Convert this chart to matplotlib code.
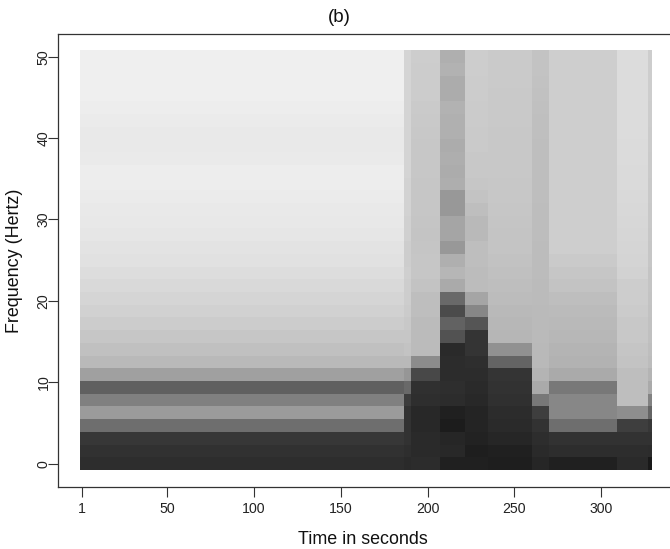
import numpy as np
import matplotlib
matplotlib.use('Agg')
import matplotlib.pyplot as plt

plt.rcParams['font.family'] = ['Liberation Sans', 'DejaVu Sans']

# column edges (seconds) and row centres (Hertz)
time_edges = [-0.33, 186.4, 190.4, 207.1, 221.9, 234.8, 260.2, 270.0, 309.2, 327.1, 329.4]
freq_step = 1.5625
n_rows = 33

# grey level of each row (bottom to top), one list per time segment
seg0 = [45, 49, 55, 110, 155, 128, 96, 160, 185, 192, 198, 204, 209, 213, 217, 221, 225,
        227, 230, 232, 233, 235, 237, 237, 234, 233, 233, 235, 237, 239, 239, 239, 239]
seg1 = [42, 46, 50, 50, 50, 60, 105, 150, 185, 195, 198, 200, 203, 205, 205, 207, 205,
        205, 208, 208, 210, 210, 210, 212, 212, 212, 212, 212, 212, 212, 212, 212, 212]
seg2 = [44, 42, 42, 40, 40, 46, 48, 72, 140, 187, 187, 187, 190, 190, 195, 198, 198,
        197, 196, 197, 198, 198, 198, 199, 199, 199, 200, 201, 202, 204, 204, 204, 205]
seg3 = [32, 40, 38, 28, 32, 44, 46, 44, 44, 42, 82, 98, 75, 105, 170, 182, 175,
        152, 165, 165, 152, 152, 174, 172, 174, 172, 176, 176, 178, 172, 172, 178, 175]
seg4 = [32, 30, 34, 36, 36, 40, 42, 44, 46, 52, 52, 85, 135, 165, 188, 188, 190,
        190, 185, 185, 190, 195, 198, 200, 200, 202, 202, 203, 203, 204, 204, 205, 205]
seg5 = [30, 32, 38, 42, 44, 48, 50, 52, 100, 145, 182, 183, 185, 188, 190, 192, 194,
        196, 196, 197, 198, 199, 199, 200, 200, 200, 200, 201, 201, 201, 202, 202, 202]
seg6 = [38, 42, 45, 50, 62, 120, 170, 180, 185, 185, 186, 186, 186, 187, 187, 188, 188,
        188, 189, 189, 189, 190, 190, 190, 190, 190, 191, 191, 192, 193, 194, 195, 195]
seg7 = [32, 45, 50, 110, 135, 135, 120, 170, 178, 180, 183, 185, 187, 190, 195, 198, 202,
        206, 206, 206, 206, 206, 206, 206, 206, 206, 206, 206, 206, 206, 206, 206, 206]
seg8 = [42, 45, 50, 62, 142, 190, 190, 190, 195, 197, 200, 200, 203, 205, 205, 210, 212,
        213, 214, 215, 216, 217, 218, 218, 219, 219, 220, 220, 220, 220, 220, 220, 220]
seg9 = [25, 44, 50, 55, 100, 130, 170, 180, 188, 190, 192, 193, 194, 195, 196, 196, 198,
        198, 199, 200, 200, 201, 201, 202, 202, 203, 203, 204, 204, 205, 205, 205, 205]

segments = [seg0, seg1, seg2, seg3, seg4, seg5, seg6, seg7, seg8, seg9]

x_ticks = [1, 50, 100, 150, 200, 250, 300]
y_ticks = [0, 10, 20, 30, 40, 50]

W, H = 670, 549
fig = plt.figure(figsize=(W / 100, H / 100), dpi=100)
# axes box runs a little past the right edge of the canvas
left, right, top, bottom = 57.5, 676.0, 33.7, 487.0
ax = fig.add_axes([left / W, 1 - bottom / H, (right - left) / W, (bottom - top) / H])

grey = np.array(segments, dtype=float).T
freq_edges = (np.arange(n_rows + 1) - 0.5) * freq_step
ax.pcolormesh(time_edges, freq_edges, grey, cmap='gray', vmin=0, vmax=255,
              shading='flat', antialiased=False, rasterized=True)

px_per_sec = 85 / 49
px_per_hz = 8.14
ax.set_xlim(1 + (left - 82.3) / px_per_sec, 1 + (right - 82.3) / px_per_sec)
ax.set_ylim((463.7 - bottom) / px_per_hz, (463.7 - top) / px_per_hz)

for s in ax.spines.values():
    s.set_color('#333333')
    s.set_linewidth(0.9)

ax.set_xticks(x_ticks)
ax.set_yticks(y_ticks)
ax.tick_params(axis='both', length=7.0, width=0.8, color='#333333', labelsize=10.2, labelcolor='#222222')
ax.tick_params(axis='x', pad=3.5)
ax.tick_params(axis='y', pad=-2)
plt.setp(ax.get_yticklabels(), rotation=90, va='center')

fig.text(363 / W, 1 - 539 / H, 'Time in seconds', fontsize=12.9, ha='center', va='center', color='#111111')
fig.text(15 / W, 1 - 261 / H, 'Frequency (Hertz)', fontsize=12.9, rotation=90, ha='center', va='center', color='#111111')
fig.text(339 / W, 1 - 17 / H, '(b)', fontsize=13.5, ha='center', va='center', color='#111111')

fig.savefig('out.png', dpi=100)
